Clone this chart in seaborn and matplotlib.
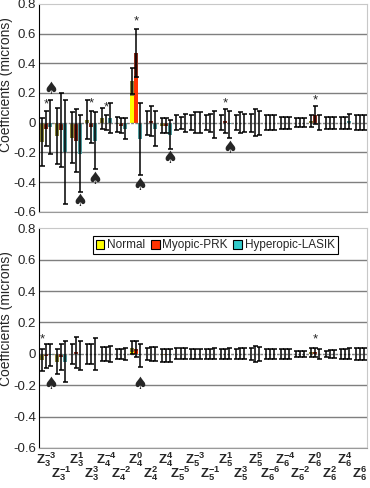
import numpy as np
import pandas as pd
import matplotlib
matplotlib.use('Agg')
import matplotlib.pyplot as plt
import seaborn as sns
from matplotlib.patches import Patch

# termos de Zernike (3a a 6a ordem)
terms = ['$\\mathbf{Z_{3}^{-3}}$', '$\\mathbf{Z_{3}^{-1}}$', '$\\mathbf{Z_{3}^{1}}$', '$\\mathbf{Z_{3}^{3}}$',
         '$\\mathbf{Z_{4}^{-4}}$', '$\\mathbf{Z_{4}^{-2}}$', '$\\mathbf{Z_{4}^{0}}$', '$\\mathbf{Z_{4}^{2}}$',
         '$\\mathbf{Z_{4}^{4}}$', '$\\mathbf{Z_{5}^{-5}}$', '$\\mathbf{Z_{5}^{-3}}$', '$\\mathbf{Z_{5}^{-1}}$',
         '$\\mathbf{Z_{5}^{1}}$', '$\\mathbf{Z_{5}^{3}}$', '$\\mathbf{Z_{5}^{5}}$', '$\\mathbf{Z_{6}^{-6}}$',
         '$\\mathbf{Z_{6}^{-4}}$', '$\\mathbf{Z_{6}^{-2}}$', '$\\mathbf{Z_{6}^{0}}$', '$\\mathbf{Z_{6}^{2}}$',
         '$\\mathbf{Z_{6}^{4}}$', '$\\mathbf{Z_{6}^{6}}$']
groups = ['Normal', 'Myopic-PRK', 'Hyperopic-LASIK']

#painel superior
top_normal = [-0.13, -0.09, -0.10, 0.02, 0.03, -0.01, 0.28, 0.00, -0.02, 0.00, 0.00,
              0.00, 0.00, 0.00, 0.00, 0.00, 0.00, 0.00, 0.01, 0.00, 0.00, 0.00]
top_prk = [-0.04, -0.05, -0.12, -0.03, 0.00, -0.02, 0.47, 0.01, -0.02, 0.00, 0.00,
           0.00, 0.01, 0.00, 0.00, 0.00, 0.00, 0.00, 0.05, 0.00, 0.00, 0.00]
top_lasik = [-0.03, -0.20, -0.21, -0.12, 0.03, -0.04, -0.11, -0.04, -0.08, 0.00, 0.00,
             -0.01, -0.01, 0.00, 0.00, 0.00, 0.00, 0.00, 0.00, 0.00, 0.01, 0.00]
top_normal_sd = [0.16, 0.19, 0.17, 0.13, 0.07, 0.05, 0.09, 0.08, 0.05, 0.05, 0.05,
                 0.05, 0.05, 0.05, 0.06, 0.05, 0.04, 0.03, 0.04, 0.04, 0.04, 0.05]
top_prk_sd = [0.12, 0.25, 0.21, 0.11, 0.05, 0.05, 0.16, 0.10, 0.05, 0.04, 0.07,
              0.06, 0.08, 0.07, 0.09, 0.05, 0.04, 0.03, 0.06, 0.04, 0.04, 0.05]
top_lasik_sd = [0.18, 0.35, 0.26, 0.19, 0.10, 0.07, 0.24, 0.12, 0.10, 0.06, 0.07,
                0.09, 0.09, 0.06, 0.08, 0.05, 0.04, 0.03, 0.05, 0.04, 0.05, 0.05]
# parte clara das barras (so no Z4^0)
top_normal_light = [0, 0, 0, 0, 0, 0, 0.18, 0, 0, 0, 0, 0, 0, 0, 0, 0, 0, 0, 0, 0, 0, 0]
top_prk_light = [0, 0, 0, 0, 0, 0, 0.30, 0, 0, 0, 0, 0, 0, 0, 0, 0, 0, 0, 0, 0, 0, 0]
top_stars = [(0, 1, 0.12), (3, 1, 0.13), (4, 1, 0.10), (6, 1, 0.68), (12, 1, 0.13), (18, 1, 0.15)]
top_spades = [(0, 2, 0.225), (2, 2, -0.53), (3, 2, -0.38), (6, 2, -0.42), (8, 2, -0.235), (12, 2, -0.17)]

#painel inferior
bot_normal = [-0.04, -0.05, 0.00, 0.00, 0.00, 0.00, 0.04, 0.00, -0.01, 0.00, 0.00,
              0.00, 0.00, 0.00, 0.00, 0.00, 0.00, 0.00, 0.01, 0.00, 0.00, 0.00]
bot_prk = [-0.015, -0.02, 0.01, 0.00, 0.00, 0.00, 0.03, 0.00, -0.01, 0.00, 0.00,
           0.00, 0.00, 0.00, 0.00, 0.00, 0.00, 0.00, 0.01, 0.00, 0.00, 0.00]
bot_lasik = [-0.01, -0.05, -0.01, 0.00, 0.00, 0.00, -0.01, 0.00, -0.01, 0.00, 0.00,
             0.00, 0.00, 0.00, 0.00, 0.00, 0.00, 0.00, 0.00, 0.00, 0.00, 0.00]
bot_normal_sd = [0.07, 0.08, 0.065, 0.065, 0.045, 0.03, 0.04, 0.04, 0.04, 0.035, 0.03,
                 0.03, 0.03, 0.03, 0.04, 0.03, 0.03, 0.02, 0.03, 0.02, 0.03, 0.04]
bot_prk_sd = [0.075, 0.08, 0.10, 0.065, 0.045, 0.03, 0.05, 0.045, 0.04, 0.035, 0.03,
              0.03, 0.03, 0.035, 0.05, 0.03, 0.03, 0.02, 0.03, 0.025, 0.03, 0.04]
bot_lasik_sd = [0.07, 0.13, 0.09, 0.10, 0.05, 0.04, 0.075, 0.045, 0.04, 0.035, 0.03,
                0.035, 0.035, 0.035, 0.045, 0.03, 0.03, 0.02, 0.03, 0.025, 0.035, 0.04]
bot_normal_light = [0, 0, 0, 0, 0, 0, 0.015, 0, 0, 0, 0, 0, 0, 0, 0, 0, 0, 0, 0, 0, 0, 0]
bot_prk_light = [0, 0, 0, 0, 0, 0, 0.02, 0, 0, 0, 0, 0, 0, 0, 0, 0, 0, 0, 0, 0, 0, 0]
bot_stars = [(0, 0, 0.095), (18, 1, 0.09)]
bot_spades = [(0, 2, -0.19), (6, 2, -0.19)]

ytick_vals = [-0.6, -0.4, -0.2, 0, 0.2, 0.4, 0.6, 0.8]
ytick_labels = ['-0.6', '-0.4', '-0.2', '0', '0.2', '0.4', '0.6', '0.8']

dark_colors = ['#8a8638', '#8c2e1e', '#4f9c9e']
light_colors = ['#ffff00', '#ff3300', '#33cccc']

sns.set_style('white')
plt.rcParams['font.family'] = ['Liberation Sans', 'DejaVu Sans']
plt.rcParams['mathtext.fontset'] = 'custom'
plt.rcParams['mathtext.rm'] = 'Liberation Sans'
plt.rcParams['mathtext.bf'] = 'Liberation Sans:bold'


def painel(ax, vals, sds, lights, stars, spades, label_y):
    df = pd.DataFrame({'term': terms * 3,
                       'group': np.repeat(groups, len(terms)),
                       'value': vals[0] + vals[1] + vals[2]})
    sns.barplot(data=df, x='term', y='value', hue='group', order=terms, hue_order=groups,
                palette=dark_colors, errorbar=None, width=0.82, saturation=1,
                linewidth=0, legend=False, ax=ax)
    conts = list(ax.containers)
    dfl = pd.DataFrame({'term': terms * 2,
                        'group': np.repeat(groups[:2], len(terms)),
                        'value': lights[0] + lights[1]})
    sns.barplot(data=dfl, x='term', y='value', hue='group', order=terms, hue_order=groups,
                palette=light_colors, errorbar=None, width=0.82, saturation=1,
                linewidth=0, legend=False, ax=ax)
    for k, c in enumerate(conts):
        xs = [b.get_x() + b.get_width() / 2 for b in c]
        ax.errorbar(xs, vals[k], yerr=sds[k], fmt='none', ecolor='black',
                    elinewidth=1.1, capsize=1.8, capthick=1.1, zorder=4)
    for i, s, y in stars:
        b = conts[s][i]
        ax.text(b.get_x() + b.get_width() / 2, y, '*', ha='center', va='center', fontsize=9.5)
    for i, s, y in spades:
        b = conts[s][i]
        ax.text(b.get_x() + b.get_width() / 2, y, '\u2660', ha='center', va='center',
                fontsize=12, family='DejaVu Sans')
    ax.axhline(0, color='#7f7f7f', lw=1, ls=(0, (2, 1)), zorder=1)
    for y in [-0.6, -0.4, -0.2, 0.2, 0.4, 0.6]:
        ax.axhline(y, color='#7f7f7f', lw=1, zorder=0)
    ax.set_xlim(-0.5, len(terms) - 0.5)
    ax.set_ylim(-0.6, 0.8)
    ax.set_yticks(ytick_vals)
    ax.set_yticklabels(ytick_labels, fontsize=9.5)
    ax.set_ylabel('Coefficients (microns)', fontsize=10)
    ax.yaxis.set_label_coords(-0.078, label_y)
    ax.set_xlabel('')
    ax.tick_params(axis='y', length=0, pad=2)
    for sp in ['top', 'right']:
        ax.spines[sp].set_color('#c8c8c8')
    ax.spines['bottom'].set_color('#9a9a9a')
    ax.spines['left'].set_color('black')


fig = plt.figure(figsize=(3.7, 4.88), dpi=100)
ax1 = fig.add_axes([0.105, 0.566, 0.887, 0.426])
ax2 = fig.add_axes([0.105, 0.082, 0.887, 0.450])

painel(ax1, [top_normal, top_prk, top_lasik], [top_normal_sd, top_prk_sd, top_lasik_sd],
       [top_normal_light, top_prk_light], top_stars, top_spades, 0.61)
ax1.set_xticks(range(len(terms)))
ax1.set_xticklabels([])
ax1.tick_params(axis='x', length=0)

painel(ax2, [bot_normal, bot_prk, bot_lasik], [bot_normal_sd, bot_prk_sd, bot_lasik_sd],
       [bot_normal_light, bot_prk_light], bot_stars, bot_spades, 0.59)
ax2.set_xticks(range(len(terms)))
ax2.set_xticklabels(terms, fontsize=9.5)
ax2.tick_params(axis='x', length=0, pad=1.5)
for t in ax2.xaxis.get_major_ticks()[1::2]:
    t.set_pad(11.5)

handles = [Patch(facecolor=c, edgecolor='black', linewidth=0.8) for c in light_colors]
leg = ax2.legend(handles, groups, loc='upper center', bbox_to_anchor=(0.537, 0.99), ncol=3,
                 fontsize=8.5, handlelength=0.75, handleheight=0.75, handletextpad=0.2,
                 columnspacing=0.5, borderpad=0.25, fancybox=False, framealpha=1)
leg.get_frame().set_edgecolor('black')
leg.get_frame().set_linewidth(0.8)

fig.savefig('out.png', dpi=100)
